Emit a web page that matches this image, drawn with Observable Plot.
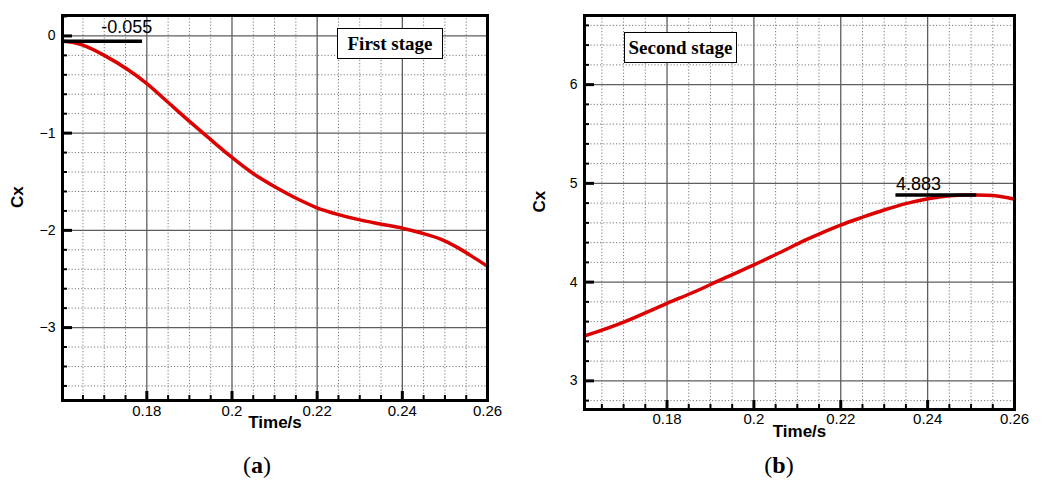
<!DOCTYPE html>
<html>
<head>
<meta charset="utf-8">
<script src="https://cdn.jsdelivr.net/npm/d3@7"></script>
<script src="https://cdn.jsdelivr.net/npm/@observablehq/plot@0.6"></script>
<style>
  body { margin: 0; background: #fff; }
  #wrap { position: relative; width: 1043px; height: 481px; font-family: "Liberation Sans", Arial, sans-serif; }
  .panel { position: absolute; top: 0; }
  .stage {
    position: absolute; box-sizing: border-box; border: 1.5px solid #000; background: #fff;
    font-family: "Liberation Serif", "Times New Roman", serif; font-weight: bold; font-size: 19px;
    display: flex; align-items: center; justify-content: center; line-height: 1;
  }
  .cap { position: absolute; font-family: "Liberation Serif", "Times New Roman", serif; font-size: 24px; transform: translateX(-50%); }
</style>
</head>
<body>
<div id="wrap">
  <div id="panelA" class="panel" style="left:0"></div>
  <div id="panelB" class="panel" style="left:520px"></div>
  <div class="stage" style="left:337px;top:28px;width:106px;height:31px">First stage</div>
  <div class="stage" style="left:624px;top:32px;width:113px;height:31px">Second stage</div>
  <div class="cap" style="left:257px;top:452px">(<b>a</b>)</div>
  <div class="cap" style="left:779px;top:452px">(<b>b</b>)</div>
</div>
<script>
// First stage: drag coefficient Cx against time
const timeA = [0.1602, 0.1625, 0.165, 0.170, 0.1755, 0.180, 0.1849, 0.1903, 0.1935, 0.1997, 0.2048, 0.211, 0.2146, 0.2198, 0.2248, 0.2298, 0.2349, 0.240, 0.2447, 0.249, 0.2529, 0.2561, 0.26];
const cxA   = [-0.055, -0.065, -0.095, -0.2, -0.345, -0.49, -0.68, -0.89, -1.01, -1.24, -1.41, -1.575, -1.66, -1.765, -1.835, -1.89, -1.935, -1.978, -2.03, -2.09, -2.175, -2.26, -2.37];

// Second stage
const timeB = [0.161, 0.1693, 0.180, 0.1865, 0.1923, 0.1999, 0.206, 0.2122, 0.2198, 0.2252, 0.2298, 0.2352, 0.2401, 0.2451, 0.250, 0.2551, 0.26];
const cxB   = [3.455, 3.583, 3.785, 3.905, 4.022, 4.172, 4.3, 4.432, 4.575, 4.66, 4.728, 4.797, 4.845, 4.875, 4.883, 4.877, 4.84];

// Axis ticks
const timeTicks = [0.18, 0.2, 0.22, 0.24, 0.26];
const cxTicksA = [0, -1, -2, -3];
const cxTicksB = [3, 4, 5, 6];

// Annotated extreme values
const peakA = {label: "-0.055", value: -0.055, from: 0.1602, to: 0.179, textAt: 0.1693};
const peakB = {label: "4.883", value: 4.883, from: 0.2327, to: 0.2513, textAt: 0.2327};

const round = v => Math.round(v * 1e4) / 1e4;
const minorRange = (lo, hi, step, majors) =>
  d3.range(Math.round(lo / step), Math.round(hi / step) + 1)
    .map(i => round(i * step))
    .filter(v => !majors.some(m => Math.abs(m - v) < 1e-9));

function stagePlot({time, cx, xDomain, yDomain, yTicks, peak, margins, width, height, xLabelPad, peakDy}) {
  const [mt, mr, mb, ml] = margins;
  const innerW = width - ml - mr, innerH = height - mt - mb;
  const minorX = minorRange(0.165, 0.255, 0.005, timeTicks);
  const minorY = minorRange(Math.ceil(yDomain[0] / 0.2) * 0.2, Math.floor(yDomain[1] / 0.2) * 0.2, 0.2, yTicks);
  const data = time.map((t, i) => ({t, v: cx[i]}));
  const fmtY = d => d < 0 ? "\u2212" + Math.abs(d) : String(d);
  return Plot.plot({
    width, height,
    marginTop: mt, marginRight: mr, marginBottom: mb, marginLeft: ml,
    style: {fontFamily: "Liberation Sans, Arial, sans-serif", background: "#fff", overflow: "visible"},
    x: {domain: xDomain},
    y: {domain: yDomain},
    marks: [
      // dotted minor grid
      Plot.ruleX(minorX, {stroke: "#7a7a7a", strokeWidth: 1, strokeDasharray: "1.2,2"}),
      Plot.ruleY(minorY, {stroke: "#7a7a7a", strokeWidth: 1, strokeDasharray: "1.2,2"}),
      // solid major grid
      Plot.ruleX(timeTicks, {stroke: "#5e5e5e", strokeWidth: 1.3}),
      Plot.ruleY(yTicks, {stroke: "#5e5e5e", strokeWidth: 1.3}),
      // Cx curve
      Plot.line(data, {x: "t", y: "v", stroke: "#dc0000", strokeWidth: 3.5, curve: "catmull-rom"}),
      // extreme value marker
      Plot.ruleY([peak], {y: "value", x1: "from", x2: "to", stroke: "#000", strokeWidth: 3.5}),
      Plot.text([peak], {x: "textAt", y: "value", text: "label", textAnchor: "start", dy: peakDy,
        fontSize: 18, fill: "#000"}),
      // inward ticks
      Plot.ruleX(timeTicks, {insetTop: innerH - 9, stroke: "#000", strokeWidth: 3}),
      Plot.ruleX(minorX, {insetTop: innerH - 5, stroke: "#000", strokeWidth: 2}),
      Plot.ruleY(yTicks, {insetRight: innerW - 10, stroke: "#000", strokeWidth: 3}),
      Plot.ruleY(minorY, {insetRight: innerW - 5, stroke: "#000", strokeWidth: 2}),
      // tick labels
      Plot.axisX(timeTicks, {tickSize: 0, tickPadding: xLabelPad, fontSize: 15, fill: "#000",
        tickFormat: d => String(d), label: null}),
      Plot.axisY(yTicks, {tickSize: 0, tickPadding: 7, fontSize: 14, fill: "#000",
        tickFormat: fmtY, label: null}),
      // axis titles
      Plot.text(["Time/s"], {frameAnchor: "bottom", dy: 27, fontSize: 17, fontWeight: "bold", fill: "#000"}),
      Plot.text(["Cx"], {frameAnchor: "left", dx: -45, rotate: -90, fontSize: 17, fontWeight: "bold", fill: "#000"}),
      Plot.frame({stroke: "#000", strokeWidth: 3})
    ]
  });
}

document.getElementById("panelA").append(stagePlot({
  time: timeA, cx: cxA,
  xDomain: [0.1602, 0.26], yDomain: [-3.75, 0.21], yTicks: cxTicksA, peak: peakA,
  width: 520, height: 445, margins: [15, 33, 45, 62], xLabelPad: 5, peakDy: -14
}));

document.getElementById("panelB").append(stagePlot({
  time: timeB, cx: cxB,
  xDomain: [0.161, 0.26], yDomain: [2.71, 6.70], yTicks: cxTicksB, peak: peakB,
  width: 523, height: 445, margins: [15, 29, 36, 64], xLabelPad: 4, peakDy: -11
}));
</script>
</body>
</html>
